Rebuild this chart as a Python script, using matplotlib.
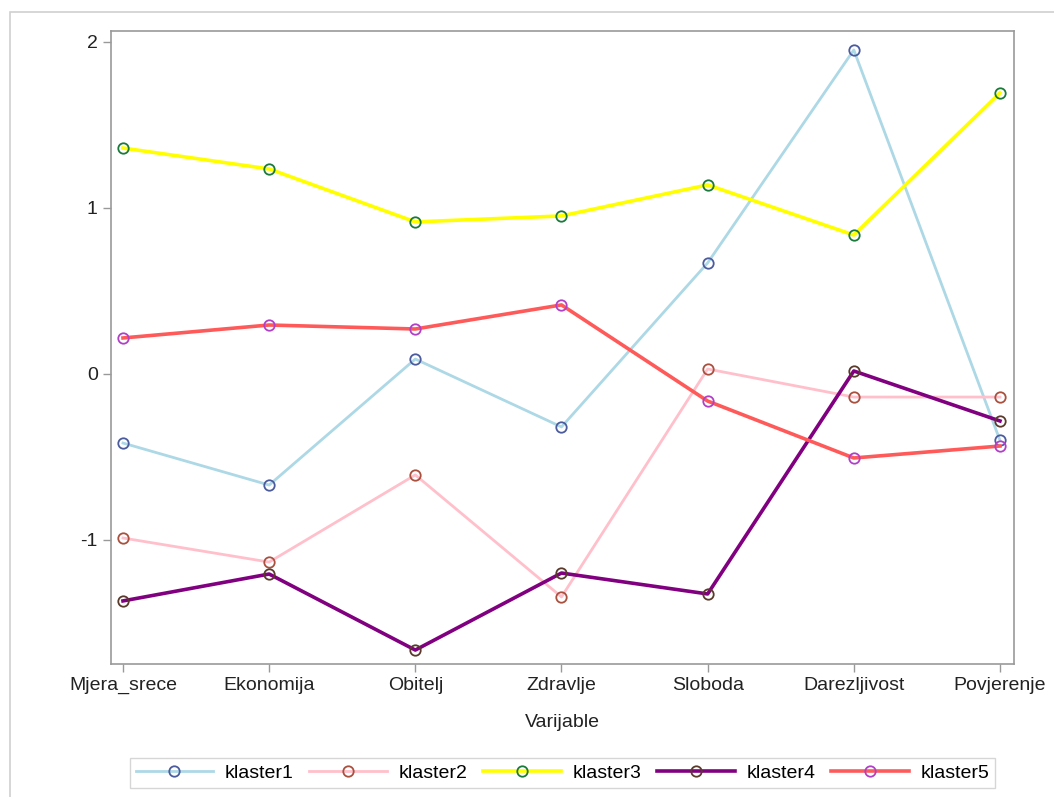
import matplotlib.pyplot as plt
from matplotlib.patches import Rectangle

plt.rcParams['font.family'] = ['Liberation Sans', 'DejaVu Sans']

varijable = ['Mjera_srece', 'Ekonomija', 'Obitelj', 'Zdravlje', 'Sloboda', 'Darezljivost', 'Povjerenje']
klaster1 = [-0.416, -0.669, 0.09, -0.319, 0.669, 1.952, -0.40]
klaster2 = [-0.988, -1.133, -0.608, -1.343, 0.03, -0.139, -0.139]
klaster3 = [1.361, 1.235, 0.916, 0.952, 1.139, 0.837, 1.693]
klaster4 = [-1.367, -1.205, -1.663, -1.199, -1.325, 0.018, -0.283]
klaster5 = [0.217, 0.295, 0.271, 0.416, -0.163, -0.506, -0.434]

serije = [
    ('klaster1', klaster1, '#add8e6', '#4b5b9e', 2.0),
    ('klaster2', klaster2, '#ffc0cb', '#a9503f', 2.0),
    ('klaster3', klaster3, '#ffff00', '#1a7a3a', 2.6),
    ('klaster4', klaster4, '#800080', '#5a3a2a', 2.6),
    ('klaster5', klaster5, '#ff5a5a', '#b040c8', 2.6),
]

fig = plt.figure(figsize=(10.54, 7.97), dpi=100)
fig.patches.append(Rectangle((10/1054, -0.1), 1.2, 1 - 12/797 + 0.1, transform=fig.transFigure,
                             fill=False, edgecolor='#d0d0d0', linewidth=1.2))
ax = fig.add_axes([111/1054, 1 - 664/797, (1014 - 111)/1054, (664 - 31)/797])

x = list(range(len(varijable)))
for ime, vals, boja, rub, lw in serije:
    ax.plot(x, vals, color=boja, linewidth=lw, marker='o', markersize=7.5,
            markerfacecolor='none', markeredgecolor=rub, markeredgewidth=1.3, label=ime)

ax.set_xlim(-0.082, 6.096)
ax.set_ylim(-1.747, 2.066)
ax.set_xticks(x)
ax.set_xticklabels(varijable, fontsize=14, color='#222222')
ax.set_yticks([-1, 0, 1, 2])
ax.set_yticklabels(['-1', '0', '1', '2'], fontsize=14, color='#222222')
ax.tick_params(direction='out', length=6, color='#999999', width=1)
for s in ax.spines.values():
    s.set_color('#999999')
    s.set_linewidth(1.2)
ax.set_xlabel('Varijable', fontsize=14, color='#222222', labelpad=14)

leg = fig.legend(loc='center', bbox_to_anchor=(562.5/1054, 1 - 773/797), ncol=5, fontsize=14,
                 handlelength=4, columnspacing=0.8, handletextpad=0.6, frameon=True,
                 fancybox=False, borderpad=0.3)
leg.get_frame().set_edgecolor('#cccccc')
leg.get_frame().set_linewidth(1)

fig.savefig('out.png', dpi=100)
